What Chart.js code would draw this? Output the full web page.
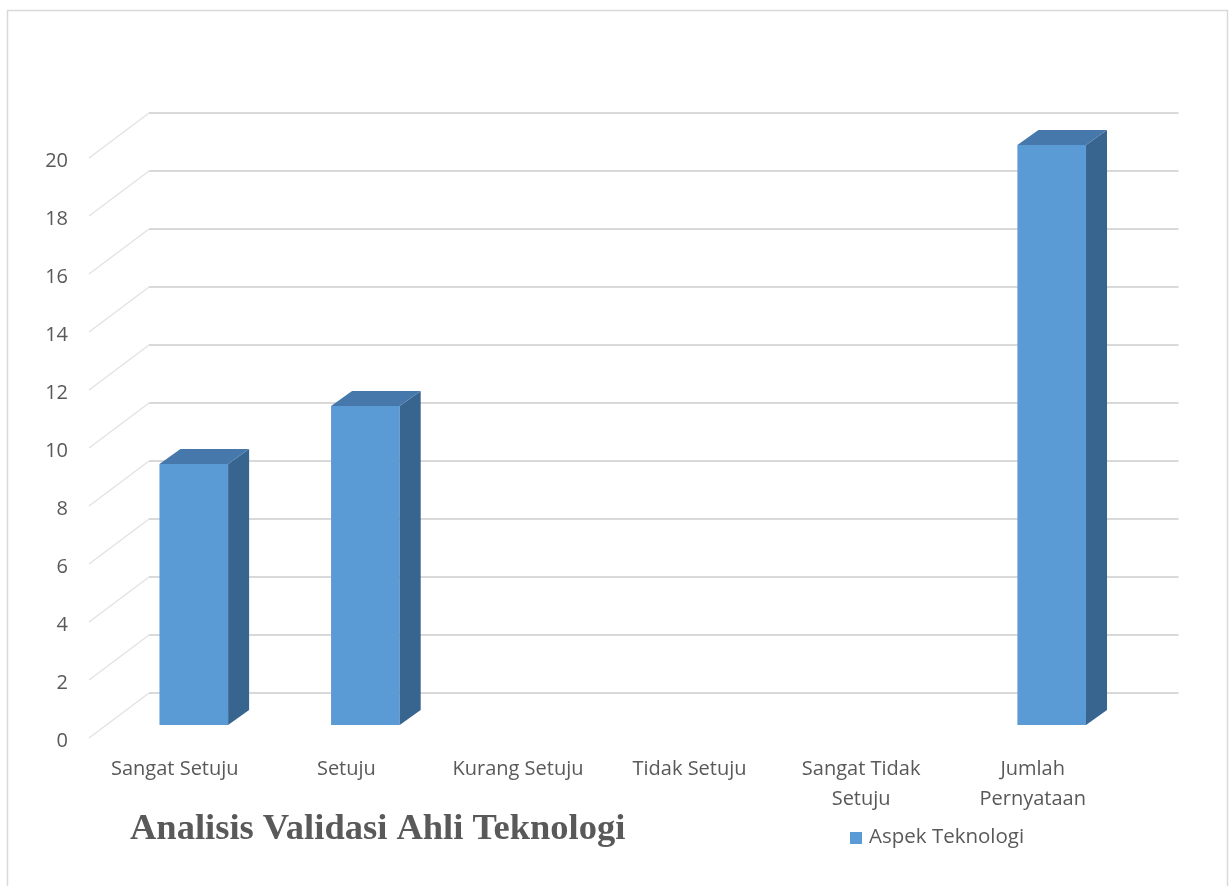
<!DOCTYPE html>
<html>
<head>
<meta charset="utf-8">
<script src="https://cdn.jsdelivr.net/npm/chart.js@4/dist/chart.umd.min.js"></script>
<style>
  html, body { margin: 0; padding: 0; background: #ffffff; }
  #wrap { position: relative; width: 1230px; height: 886px; overflow: hidden; }
  canvas { display: block; }
</style>
</head>
<body>
<div id="wrap"><canvas id="chart" width="1230" height="886"></canvas></div>
<script>
// Categories, values and axis ticks
const categories = ['Sangat Setuju', 'Setuju', 'Kurang Setuju', 'Tidak Setuju', ['Sangat Tidak', 'Setuju'], ['Jumlah', 'Pernyataan']];
const seriesName = 'Aspek Teknologi';
const seriesValues = [9, 11, 0, 0, 0, 20];
const yTicks = [0, 2, 4, 6, 8, 10, 12, 14, 16, 18, 20];
const chartTitle = 'Analisis Validasi Ahli Teknologi';

const TEXT = '#595959';
const GRID = '#d9d9d9';
const FRONT = '#5b9bd5';
const TOP = '#4678ab';
const SIDE = '#386590';

// 3D geometry: wall depth, bar position inside the depth, bar thickness
const WALL_DX = 60, WALL_DY = -45;
const BAR_DX = 19, BAR_DY = -13;
const DEPTH_DX = 21, DEPTH_DY = -15;

const walls3d = {
  id: 'walls3d',
  beforeDatasetsDraw(chart) {
    const { ctx, chartArea, scales } = chart;
    const y = scales.y;
    ctx.save();
    yTicks.forEach(v => {
      const py = y.getPixelForValue(v);
      // floor/side diagonal
      ctx.strokeStyle = '#e3e3e3';
      ctx.lineWidth = 1.5;
      ctx.beginPath();
      ctx.moveTo(chartArea.left, py);
      ctx.lineTo(chartArea.left + WALL_DX, py + WALL_DY);
      ctx.stroke();
      // back wall line
      ctx.strokeStyle = GRID;
      ctx.lineWidth = 2;
      ctx.beginPath();
      ctx.moveTo(chartArea.left + WALL_DX, py + WALL_DY);
      ctx.lineTo(chartArea.right + WALL_DX, py + WALL_DY);
      ctx.stroke();
    });
    ctx.restore();
  },
  beforeDatasetDraw(chart) {
    chart.ctx.save();
    chart.ctx.translate(BAR_DX, BAR_DY);
  },
  afterDatasetDraw(chart, args) {
    const ctx = chart.ctx;
    const meta = args.meta;
    meta.data.forEach((bar, i) => {
      const v = chart.data.datasets[args.index].data[i];
      if (!v) return;
      const p = bar.getProps(['x', 'y', 'base', 'width'], true);
      const l = p.x - p.width / 2, r = p.x + p.width / 2;
      // side face
      ctx.fillStyle = SIDE;
      ctx.beginPath();
      ctx.moveTo(r, p.y);
      ctx.lineTo(r + DEPTH_DX, p.y + DEPTH_DY);
      ctx.lineTo(r + DEPTH_DX, p.base + DEPTH_DY);
      ctx.lineTo(r, p.base);
      ctx.closePath();
      ctx.fill();
      // top face
      ctx.fillStyle = TOP;
      ctx.beginPath();
      ctx.moveTo(l, p.y);
      ctx.lineTo(l + DEPTH_DX, p.y + DEPTH_DY);
      ctx.lineTo(r + DEPTH_DX, p.y + DEPTH_DY);
      ctx.lineTo(r, p.y);
      ctx.closePath();
      ctx.fill();
    });
    ctx.restore();
  },
  afterDraw(chart) {
    const ctx = chart.ctx;
    ctx.save();
    // outer frame
    ctx.strokeStyle = GRID;
    ctx.lineWidth = 1.5;
    ctx.strokeRect(7.5, 10.5, 1220, 900);
    // title
    ctx.fillStyle = TEXT;
    ctx.font = 'bold 36.5px "Liberation Serif"';
    ctx.textBaseline = 'alphabetic';
    ctx.textAlign = 'left';
    ctx.fillText(chartTitle, 130, 839);
    // legend
    const ds = chart.data.datasets[0];
    ctx.fillStyle = ds.backgroundColor;
    ctx.fillRect(850, 832, 12, 12);
    ctx.fillStyle = TEXT;
    ctx.font = '20.5px "Open Sans"';
    ctx.fillText(ds.label, 869, 843);
    ctx.restore();
  }
};

new Chart(document.getElementById('chart'), {
  type: 'bar',
  data: {
    labels: categories,
    datasets: [{
      label: seriesName,
      data: seriesValues,
      backgroundColor: FRONT,
      borderWidth: 0,
      barPercentage: 0.4,
      categoryPercentage: 1
    }]
  },
  options: {
    responsive: false,
    animation: false,
    devicePixelRatio: 1,
    layout: { padding: { left: 0, right: 111.5, top: 158, bottom: 0 } },
    plugins: {
      legend: { display: false },
      title: { display: false },
      tooltip: { enabled: false }
    },
    scales: {
      x: {
        grid: { display: false, drawTicks: false },
        border: { display: false },
        ticks: {
          color: TEXT,
          font: { family: '"Open Sans"', size: 20, lineHeight: 1.5 },
          padding: 16,
          maxRotation: 0,
          autoSkip: false
        },
        afterFit(scale) { scale.height = 148; }
      },
      y: {
        min: 0,
        max: 20,
        afterBuildTicks(scale) { scale.ticks = yTicks.map(v => ({ value: v })); },
        grid: { display: false, drawTicks: false },
        border: { display: false },
        ticks: {
          color: TEXT,
          font: { family: '"Open Sans"', size: 20 },
          padding: 21,
          labelOffset: 3
        },
        afterFit(scale) { scale.width = 89; }
      }
    }
  },
  plugins: [walls3d]
});
</script>
</body>
</html>
